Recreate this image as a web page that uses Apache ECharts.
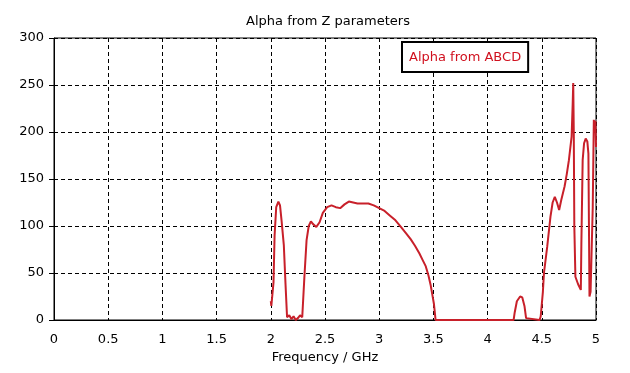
<!DOCTYPE html>
<html>
<head>
<meta charset="utf-8">
<script src="https://cdn.jsdelivr.net/npm/echarts@6/dist/echarts.min.js"></script>
<style>html,body{margin:0;padding:0;background:#fff}#c{width:630px;height:373px}</style>
</head>
<body>
<div id="c"></div>
<script>
var titleText = 'Alpha from Z parameters';
var seriesName = 'Alpha from ABCD';
var xAxisName = 'Frequency / GHz';
var xTicks = [0, 0.5, 1, 1.5, 2, 2.5, 3, 3.5, 4, 4.5, 5];
var yTicks = [0, 50, 100, 150, 200, 250, 300];

var freq = [
  2.000, 2.005, 2.015, 2.025, 2.035, 2.05, 2.07, 2.085, 2.10, 2.12, 2.135, 2.15,
  2.17, 2.19, 2.21, 2.23, 2.25, 2.27, 2.29, 2.30, 2.31, 2.33, 2.35, 2.37, 2.39,
  2.42, 2.45, 2.48, 2.52, 2.56, 2.60, 2.64, 2.68, 2.72, 2.76, 2.80, 2.90, 2.95,
  3.00, 3.05, 3.10, 3.15, 3.20, 3.25, 3.29, 3.33, 3.37, 3.40, 3.43, 3.455, 3.475,
  3.49, 3.505, 3.515, 3.52, 4.24, 4.25, 4.27, 4.30, 4.32, 4.34, 4.355, 4.36,
  4.48, 4.49, 4.51, 4.52, 4.55, 4.58, 4.60, 4.62, 4.64, 4.66, 4.68, 4.71, 4.73,
  4.75, 4.775, 4.785, 4.79, 4.795, 4.80, 4.81, 4.835, 4.86, 4.865, 4.877, 4.89,
  4.905, 4.92, 4.93, 4.935, 4.94, 4.95, 4.96, 4.97, 4.98, 4.99, 4.995, 5.0
];
var alpha = [
  20, 15, 14, 40, 90, 120, 126, 122, 105, 80, 40, 3,
  5, 1, 4, 0, 2, 5, 3, 5, 46, 85, 100, 105, 102,
  99, 104, 114, 120, 122, 120, 119, 123, 126, 125, 124, 124, 122,
  119, 116, 111, 106, 99, 92, 86, 79, 71, 64, 57, 47, 37,
  27, 17, 6, 0, 0, 8, 20, 25, 24, 15, 2, 0,
  0, 4, 30, 50, 78, 110, 125, 131, 125, 117, 128, 142, 155,
  170, 195, 230, 252, 200, 100, 46, 38, 32, 80, 170, 188,
  193, 190, 177, 100, 25, 30, 32, 120, 213, 205, 212, 184
];

var points = freq.map(function (f, i) { return [f, alpha[i]]; });
var font = 'DejaVu Sans';

var chart = echarts.init(document.getElementById('c'), null, {renderer: 'canvas'});
chart.setOption({
  animation: false,
  backgroundColor: '#ffffff',
  textStyle: {fontFamily: font},
  title: {
    text: titleText,
    left: 323,
    top: 10,
    textAlign: 'center',
    textStyle: {fontFamily: font, fontSize: 13, fontWeight: 'normal', color: '#000'}
  },
  legend: {
    data: [{name: seriesName, icon: 'none'}],
    left: 402,
    top: 42,
    itemWidth: 0,
    itemHeight: 0,
    padding: [9, 7, 8, 2],
    borderColor: '#000',
    borderWidth: 2,
    backgroundColor: '#fff',
    textStyle: {fontFamily: font, fontSize: 13, color: '#d0101e'}
  },
  grid: {
    left: 54, right: 34, top: 38, bottom: 53,
    show: true, borderColor: '#000', borderWidth: 1, backgroundColor: 'transparent'
  },
  xAxis: {
    type: 'value',
    min: xTicks[0],
    max: xTicks[xTicks.length - 1],
    interval: 0.5,
    name: xAxisName,
    nameLocation: 'middle',
    nameGap: 31,
    nameTextStyle: {fontFamily: font, fontSize: 13, color: '#000'},
    axisLine: {show: true, lineStyle: {color: '#000', width: 1}},
    axisTick: {show: false},
    axisLabel: {fontFamily: font, fontSize: 13, color: '#000', margin: 13},
    splitLine: {show: true, lineStyle: {color: '#000', type: [4, 3], width: 1}}
  },
  yAxis: {
    type: 'value',
    min: yTicks[0],
    max: yTicks[yTicks.length - 1],
    interval: 50,
    axisLine: {show: true, lineStyle: {color: '#000', width: 1}},
    axisTick: {show: true, length: 5, lineStyle: {color: '#000'}},
    axisLabel: {fontFamily: font, fontSize: 13, color: '#000', margin: 10},
    splitLine: {show: true, lineStyle: {color: '#000', type: [4, 3], width: 1}}
  },
  series: [{
    name: seriesName,
    type: 'line',
    data: points,
    showSymbol: false,
    symbol: 'none',
    lineStyle: {color: '#c8202a', width: 2},
    itemStyle: {color: '#c8202a'}
  }]
});
</script>
</body>
</html>
